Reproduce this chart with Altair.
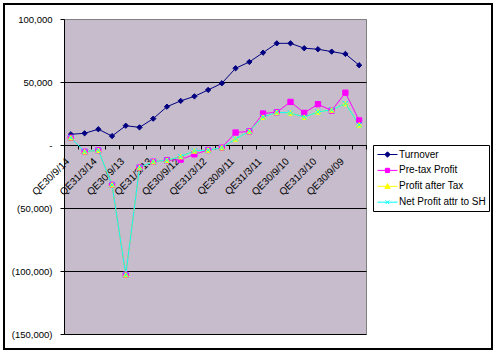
import altair as alt
import pandas as pd

cats = ["QE30/9/14", "QE30/6/14", "QE31/3/14", "QE31/12/13", "QE30/9/13", "QE30/6/13",
        "QE31/3/13", "QE31/12/12", "QE30/9/12", "QE30/6/12", "QE31/3/12", "QE31/12/11",
        "QE30/9/11", "QE30/6/11", "QE31/3/11", "QE31/12/10", "QE30/9/10", "QE30/6/10",
        "QE31/3/10", "QE31/12/09", "QE30/9/09", "QE30/6/09"]
shown_labels = cats[::2]

series_names = ["Turnover", "Pre-tax Profit", "Profit after Tax", "Net Profit attr to SH"]
series_colors = ["#000080", "#ff00ff", "#ffff00", "#00ffff"]
series_shapes = ["diamond", "square", "triangle-up", "M-1,-1L1,1M-1,1L1,-1"]

turnover = [8500, 9300, 12500, 7100, 15300, 14000, 20900, 30400, 35000, 38600, 43700,
            49000, 60900, 65900, 73300, 80700, 80700, 76800, 76000, 74100, 72300, 63300]
pretax = [5800, -5300, -4200, -31600, -103000, -17900, -13200, -12100, -11600, -7400, -4000,
          -2100, 9900, 10800, 25000, 26000, 34200, 25500, 32400, 27300, 41500, 19500]
after_tax = [5800, -5300, -4200, -31600, -103000, -17900, -13200, -12100, -9200, -4700, -4000,
             -2100, 4800, 10800, 22100, 26000, 25500, 22100, 26300, 27800, 32900, 16000]
net_sh = [5800, -5300, -4200, -31600, -103000, -17900, -13200, -12100, -9200, -4700, -4000,
          -2100, 4800, 10800, 22100, 26000, 25500, 22100, 26300, 27800, 32900, 16000]

y_ticks = [-150000, -100000, -50000, 0, 50000, 100000]

rows = []
for s, vals in zip(series_names, [turnover, pretax, after_tax, net_sh]):
    for i, (c, v) in enumerate(zip(cats, vals)):
        rows.append({"series": s, "cat": c, "idx": i, "value": v})
df = pd.DataFrame(rows)

FONT = "Liberation Sans"

xscale = alt.Scale(type="band", domain=cats, paddingInner=0, paddingOuter=0)
yscale = alt.Scale(domain=[-150000, 100000], nice=False, zero=False)
cscale = alt.Scale(domain=series_names, range=series_colors)

shown_js = ",".join("'" + c + "'" for c in shown_labels)
xaxis = alt.Axis(
    title=None, orient="bottom", offset=-189, tickBand="extent", tickSize=4,
    tickColor="black", domainColor="black", labelAngle=315, labelFontSize=10,
    labelFont=FONT, labelColor="black", labelPadding=7, labelOffset=-7,
    labelOverlap=False, labelFlush=False, labelBound=False, grid=False,
    labelExpr="indexof([" + shown_js + "], datum.value) >= 0 ? datum.value : ''",
)
yaxis = alt.Axis(
    title=None, values=y_ticks, tickSize=4, tickColor="black", domainColor="black",
    labelFontSize=9.5, labelFont=FONT, labelColor="black", labelPadding=8,
    grid=True, gridOpacity=1, gridWidth=1,
    gridColor={"condition": {"test": "datum.value === 100000", "value": "#808080"}, "value": "black"},
    labelExpr="datum.value == 0 ? '-' : (datum.value < 0 ? '(' + format(-datum.value, ',') + ')' : format(datum.value, ','))",
)

X = alt.X("cat:N", sort=cats, scale=xscale, bandPosition=0.5, axis=xaxis)
Y = alt.Y("value:Q", scale=yscale, axis=yaxis)

line_path = "M-1.667,0L1.667,0"
marker_paths = [
    "M0,-0.45L0.45,0L0,0.45L-0.45,0Z",
    "M-0.35,-0.35L0.35,-0.35L0.35,0.35L-0.35,0.35Z",
    "M0,-0.45L0.45,0.35L-0.45,0.35Z",
    "M-0.3,-0.3L0.3,0.3M-0.3,0.3L0.3,-0.3",
]
sym_expr = ("datum.value == 'Turnover' ? '{0}' : datum.value == 'Pre-tax Profit' ? '{1}' : "
            "datum.value == 'Profit after Tax' ? '{2}' : '{3}'").format(
    *[line_path + p for p in marker_paths])
fill_expr = ("datum.value == 'Turnover' ? '#000080' : datum.value == 'Pre-tax Profit' ? '#ff00ff' : "
             "datum.value == 'Profit after Tax' ? '#ffff00' : 'transparent'")

legend = alt.Legend(
    title=None, orient="none", legendX=309, legendY=126, direction="vertical",
    strokeColor="black", fillColor="white", padding=3, rowPadding=3.9,
    symbolSize=144, symbolStrokeWidth=1, symbolOffset=5,
    symbolType=alt.ExprRef(expr=sym_expr), symbolFillColor=alt.ExprRef(expr=fill_expr),
    labelFontSize=10, labelFont=FONT, labelColor="black", labelOffset=5, labelLimit=200,
)

lines = alt.Chart(df).mark_line(strokeWidth=1).encode(
    x=X, y=Y,
    color=alt.Color("series:N", scale=cscale, legend=legend),
    order=alt.Order("idx:Q"),
)

point_layers = []
for s, col, shp in zip(series_names, series_colors, series_shapes):
    point_layers.append(
        alt.Chart(df).transform_filter(alt.datum.series == s)
        .mark_point(filled=True, size=28, strokeWidth=1, opacity=1, shape=shp,
                    fill=col, stroke=col)
        .encode(x=X, y=Y)
    )

frame = alt.Chart(df).mark_rect(fill="transparent", stroke="black", strokeWidth=1.2, clip=False).encode(
    x=alt.value(-60), x2=alt.value(428), y=alt.value(-15), y2=alt.value(330),
)

chart = alt.layer(lines, *point_layers, frame).properties(
    width=302, height=315,
    autosize=alt.AutoSizeParams(type="none"),
    padding={"left": 64, "top": 19, "right": 129, "bottom": 19},
    background="white",
).configure_view(
    fill="#c6bccb", stroke="#808080", strokeWidth=1,
).configure_axis(labelFont=FONT)

chart.save("out.html", embed_options={"renderer": "svg", "actions": False})
